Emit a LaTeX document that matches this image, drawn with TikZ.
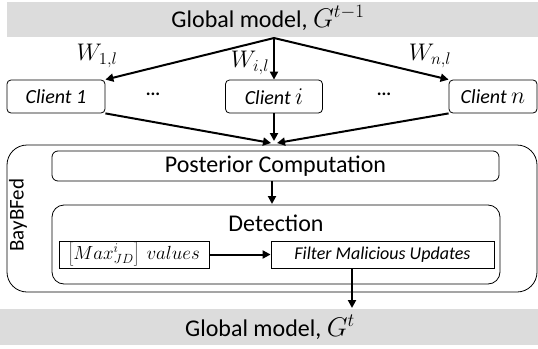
\documentclass[tikz,border=0pt]{standalone}
\usepackage{fix-cm}
\usepackage{fontspec}
\setmainfont{Carlito}
\usetikzlibrary{arrows.meta}
\definecolor{barg}{HTML}{DCDCDC}
\newcommand{\mfs}[1]{\fontsize{#1}{#1}\selectfont}
\begin{document}
\begin{tikzpicture}[x=1pt,y=-1pt,line width=0.8pt,
  client/.style={draw,rounded corners=4pt,inner sep=0pt,minimum height=33pt,font=\fontsize{20}{22}\selectfont\itshape},
  rbox/.style={draw,rounded corners=6pt,inner sep=0pt},
  sbox/.style={draw,inner sep=0pt},
  big/.style={font=\fontsize{24}{28}\selectfont},
  arr/.style={-{Triangle[length=8pt,width=8pt]},line width=2pt},
  lab/.style={font=\fontsize{24}{26}\selectfont}]
\useasboundingbox (0,0) rectangle (538,348);
% top bar
\fill[barg] (7,2) rectangle (538,37);
\node[big] (top) at (268,18) {Global model, {\mfs{27}$G^{t-1}$}};
\coordinate (src) at (274,38);
% clients
\node[client,minimum width=98pt] (c1) at (56,96.5) {Client 1};
\node[client,minimum width=97pt] (ci) at (274,96.5) {Client {\mfs{24}$i$}};
\node[client,minimum width=88pt] (cn) at (493,96.5) {Client {\mfs{24}$n$}};
\node[font=\fontsize{18}{20}\selectfont\bfseries] (d1) at (153,94) {...};
\node[font=\fontsize{18}{20}\selectfont\bfseries] (d2) at (384,94) {...};
\draw[arr] (src) -- (c1.north east);
\draw[arr] (src) -- (ci.north);
\draw[arr] (src) -- (cn.north west);
\node[lab] (w1) at (97,56) {$W_{1,l}$};
\node[lab] (wi) at (250,63) {$W_{i,l}$};
\node[lab] (wn) at (430,56) {$W_{n,l}$};
% converge
\draw[arr] (c1.south east) -- (271,143);
\draw[arr] (ci.south) -- (274,141);
\draw[arr] (cn.south west) -- (277,143);
% outer
\draw[rounded corners=20pt] (7,145) rectangle (537,292);
\node[rotate=90,font=\fontsize{21}{24}\selectfont] (bay) at (18,215) {BayBFed};
\node[rbox,minimum width=447pt,minimum height=30pt,big] (post) at (275.5,166) {Posterior Computation};
\draw[rounded corners=12pt] (52,205) rectangle (500,284);
\node[big] (det) at (276,223) {Detection};
\node[sbox,minimum width=150pt,minimum height=27pt,font=\fontsize{19}{22}\selectfont] (val) at (134,254.5) {$\left[Max_{JD}^{i}\right]\ values$};
\node[sbox,minimum width=223pt,minimum height=27pt,font=\fontsize{18}{20}\selectfont\itshape] (fil) at (382.5,254.5) {Filter Malicious Updates};
\draw[arr] (post.south -| 272,0) -- (272,204);
\draw[arr] (val) -- (fil);
% bottom bar
\fill[barg] (0,309) rectangle (538,345);
\node[big] (bot) at (270,327) {Global model, {\mfs{27}$G^{t}$}};
\draw[arr] (fil.south -| 352,0) -- (352,308);
\end{tikzpicture}
\end{document}
